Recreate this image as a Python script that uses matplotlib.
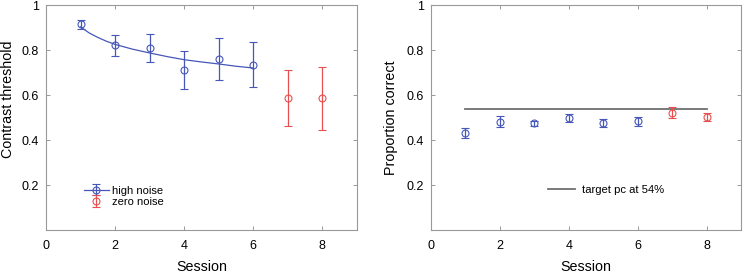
import numpy as np
import matplotlib.pyplot as plt
from matplotlib.legend_handler import HandlerTuple

plt.rcParams['font.family'] = ['Liberation Sans', 'DejaVu Sans']

# session numbers
sess_high = [1, 2, 3, 4, 5, 6]
sess_zero = [7, 8]

# contrast thresholds (left panel)
thr_high = [0.915, 0.821, 0.808, 0.711, 0.762, 0.735]
thr_high_err = [0.020, 0.047, 0.062, 0.084, 0.093, 0.100]
thr_zero = [0.588, 0.585]
thr_zero_err = [0.125, 0.140]

# fitted curve
fit_x = [1, 1.25, 1.5, 1.75, 2, 2.5, 3, 3.5, 4, 4.5, 5, 5.5, 6]
fit_y = [0.903, 0.876, 0.856, 0.839, 0.825, 0.804, 0.787, 0.771, 0.757,
         0.747, 0.738, 0.728, 0.720]

# proportion correct (right panel)
pc_high = [0.433, 0.482, 0.474, 0.499, 0.477, 0.484]
pc_high_err = [0.022, 0.024, 0.012, 0.017, 0.017, 0.020]
pc_zero = [0.522, 0.502]
pc_zero_err = [0.024, 0.016]
target_x = [1, 8]
target_pc = [0.54, 0.54]

blue = '#4657b8'
red = '#e8504f'

fig = plt.figure(figsize=(7.44, 2.74), dpi=100)
ax1 = fig.add_axes([0.0618, 0.1606, 0.418, 0.821])
ax2 = fig.add_axes([0.5793, 0.1606, 0.4167, 0.821])

for ax in (ax1, ax2):
    ax.set_xlim(0, 9)
    ax.set_ylim(0, 1)
    ax.set_xticks([0, 2, 4, 6, 8])
    ax.set_yticks([0.2, 0.4, 0.6, 0.8, 1])
    ax.set_yticklabels(['0.2', '0.4', '0.6', '0.8', '1'])
    ax.tick_params(direction='in', top=True, right=True, length=3,
                   width=0.6, color='#888888', labelsize=9)
    ax.tick_params(axis='x', pad=7)
    ax.tick_params(axis='y', pad=5)
    for s in ax.spines.values():
        s.set_color('#999999')
        s.set_linewidth(0.8)
    ax.set_xlabel('Session', fontsize=10.3, labelpad=6)

# left panel
fit_line, = ax1.plot(fit_x, fit_y, '-', color=blue, lw=0.9)
eb_high = ax1.errorbar(sess_high, thr_high, yerr=thr_high_err, fmt='o', ms=5,
                       mfc='none', mec=blue, mew=0.8, ecolor=blue, elinewidth=0.9,
                       capsize=3, capthick=0.9)
eb_zero = ax1.errorbar(sess_zero, thr_zero, yerr=thr_zero_err, fmt='o', ms=5,
                       mfc='none', mec=red, mew=0.8, ecolor=red, elinewidth=0.9,
                       capsize=3, capthick=0.9)
ax1.set_ylabel('Contrast threshold', fontsize=10.3)
ax1.yaxis.set_label_coords(-0.1, 0.58)
ax1.legend([(fit_line, eb_high), eb_zero], ['high noise', 'zero noise'],
           handler_map={tuple: HandlerTuple(ndivide=1)},
           loc='lower left', bbox_to_anchor=(0.105, 0.078), frameon=False,
           fontsize=8, handlelength=2.2, handletextpad=0.3, labelspacing=0.12,
           borderpad=0)

# right panel
t_line, = ax2.plot(target_x, target_pc, '-', color='#707070', lw=1.3)
ax2.errorbar(sess_high, pc_high, yerr=pc_high_err, fmt='o', ms=5,
             mfc='none', mec=blue, mew=0.8, ecolor=blue, elinewidth=0.9,
             capsize=3, capthick=0.9)
ax2.errorbar(sess_zero, pc_zero, yerr=pc_zero_err, fmt='o', ms=5,
             mfc='none', mec=red, mew=0.8, ecolor=red, elinewidth=0.9,
             capsize=3, capthick=0.9)
ax2.set_ylabel('Proportion correct', fontsize=10.3, labelpad=6)
ax2.legend([t_line], ['target pc at 54%'], loc='lower left',
           bbox_to_anchor=(0.36, 0.13), frameon=False, fontsize=8.1,
           handlelength=2.4, handletextpad=0.6, borderpad=0)

fig.savefig('out.png', dpi=100)
